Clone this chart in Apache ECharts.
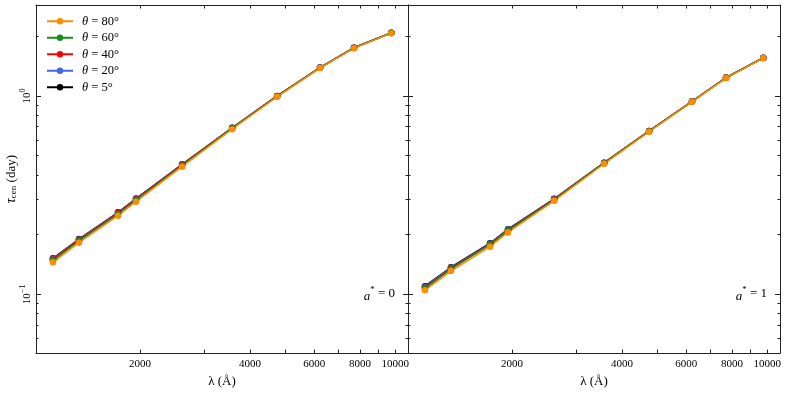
<!DOCTYPE html>
<html><head><meta charset="utf-8">
<script src="https://cdn.jsdelivr.net/npm/echarts@6/dist/echarts.min.js"></script>
<style>html,body{margin:0;padding:0;background:#fff}#c{width:789px;height:393px}</style>
</head><body><div id="c"></div>
<script>
// ---------- data ----------
const wavelengths = [1155, 1361, 1741, 1950, 2608, 3575, 4747, 6222, 7709, 9753];
const thetaNames = ['θ = 80°', 'θ = 60°', 'θ = 40°', 'θ = 20°', 'θ = 5°'];
const thetaColors = ['#ff8c00', '#1a8c1a', '#ff0000', '#4169e1', '#000000'];
// panel a* = 0
const a0_t80 = [0.145, 0.182, 0.249, 0.293, 0.440, 0.680, 0.990, 1.380, 1.740, 2.070];
const a0_t60 = [0.148, 0.186, 0.254, 0.298, 0.446, 0.686, 0.995, 1.385, 1.745, 2.075];
const a0_t40 = [0.150, 0.188, 0.257, 0.301, 0.449, 0.689, 0.997, 1.387, 1.747, 2.077];
const a0_t20 = [0.151, 0.189, 0.258, 0.303, 0.451, 0.690, 0.998, 1.388, 1.748, 2.078];
const a0_t5  = [0.152, 0.190, 0.259, 0.304, 0.452, 0.691, 0.999, 1.389, 1.749, 2.079];
// panel a* = 1
const a1_t80 = [0.105, 0.131, 0.174, 0.205, 0.296, 0.455, 0.660, 0.933, 1.230, 1.550];
const a1_t60 = [0.107, 0.134, 0.178, 0.209, 0.299, 0.458, 0.663, 0.936, 1.233, 1.553];
const a1_t40 = [0.108, 0.135, 0.179, 0.211, 0.301, 0.459, 0.664, 0.937, 1.234, 1.554];
const a1_t20 = [0.109, 0.136, 0.180, 0.212, 0.302, 0.460, 0.665, 0.938, 1.235, 1.555];
const a1_t5  = [0.110, 0.137, 0.181, 0.213, 0.303, 0.461, 0.666, 0.939, 1.236, 1.556];
const panelLabels = ['0', '1'];
// ticks
const xTickValues = [2000, 4000, 6000, 8000, 10000];
const xTickLabels = ['2000', '4000', '6000', '8000', '10000'];
const xMinorTicks = [2000, 3000, 4000, 5000, 6000, 7000, 8000, 9000, 10000];
const yMajorTicks = [0.1, 1];
const yTickExponents = ['−1', '0'];
const yMinorTicks = [0.05, 0.06, 0.07, 0.08, 0.09, 0.2, 0.3, 0.4, 0.5, 0.6, 0.7, 0.8, 0.9, 2];
const xRange = [1038, 10836];
const yRange = [0.0506, 2.87];

// ---------- build ----------
const L = Math.log10;
const FONT = "'Liberation Serif', 'DejaVu Serif', serif";
const panels = [
  [a0_t80, a0_t60, a0_t40, a0_t20, a0_t5],
  [a1_t80, a1_t60, a1_t40, a1_t20, a1_t5]
];
const grids = [
  {left: 36, top: 5, width: 372, height: 349},
  {left: 408, top: 5, width: 372, height: 349}
];
const xAxes = [], yAxes = [];
const lineStyle = {color: '#222', width: 1};
function fmtX(v) {
  for (let i = 0; i < xTickValues.length; i++) if (Math.abs(L(xTickValues[i]) - v) < 1e-6) return xTickLabels[i];
  return '';
}
function fmtY(v) {
  for (let i = 0; i < yMajorTicks.length; i++) if (Math.abs(L(yMajorTicks[i]) - v) < 1e-6) return '{b|10}{s|' + yTickExponents[i] + '}';
  return '';
}
grids.forEach((g, gi) => {
  const xb = {type: 'value', gridIndex: gi, min: L(xRange[0]), max: L(xRange[1]), splitLine: {show: false}};
  xAxes.push(Object.assign({}, xb, {
    position: 'bottom',
    axisLine: {show: true, onZero: false, lineStyle},
    axisTick: {show: true, inside: true, length: 3.5, lineStyle, customValues: xMinorTicks.map(L)},
    axisLabel: {show: true, customValues: xTickValues.map(L), formatter: fmtX, color: '#000', fontFamily: FONT, fontSize: 11, margin: 6},
    name: 'λ (Å)', nameLocation: 'middle', nameGap: 18,
    nameTextStyle: {color: '#000', fontFamily: FONT, fontSize: 13}
  }));
  xAxes.push(Object.assign({}, xb, {
    position: 'top',
    axisLine: {show: true, onZero: false, lineStyle},
    axisTick: {show: true, inside: true, length: 3.5, lineStyle, customValues: xMinorTicks.map(L)},
    axisLabel: {show: false}
  }));
  const yb = {type: 'value', gridIndex: gi, min: L(yRange[0]), max: L(yRange[1]), splitLine: {show: false}};
  yAxes.push(Object.assign({}, yb, {
    position: 'left',
    axisLine: {show: true, onZero: false, lineStyle},
    axisTick: {show: true, inside: true, length: 2.5, lineStyle, customValues: yMinorTicks.map(L)},
    axisLabel: gi === 0 ? {
      show: true, customValues: yMajorTicks.map(L), formatter: fmtY, rotate: 90, margin: 3, color: '#000',
      rich: {b: {fontFamily: FONT, fontSize: 11, verticalAlign: 'bottom', lineHeight: 14},
             s: {fontFamily: FONT, fontSize: 8, verticalAlign: 'top', lineHeight: 14}}
    } : {show: false},
    name: gi === 0 ? '{t|τ}{sub|cen} (day)' : '', nameLocation: 'middle', nameGap: 15,
    nameTextStyle: {color: '#000', fontFamily: FONT, fontSize: 13,
      rich: {t: {fontFamily: FONT, fontSize: 14, fontStyle: 'italic'},
             sub: {fontFamily: FONT, fontSize: 9, verticalAlign: 'bottom', padding: [4, 0, 0, 0]}}}
  }));
  yAxes.push(Object.assign({}, yb, {
    position: 'left',
    axisLine: {show: false, onZero: false},
    axisTick: {show: true, inside: true, length: 5, lineStyle, customValues: yMajorTicks.map(L)},
    axisLabel: {show: false}
  }));
  yAxes.push(Object.assign({}, yb, {
    position: 'right',
    axisLine: {show: true, onZero: false, lineStyle},
    axisTick: {show: true, inside: true, length: 2.5, lineStyle, customValues: yMinorTicks.map(L)},
    axisLabel: {show: false}
  }));
  yAxes.push(Object.assign({}, yb, {
    position: 'right',
    axisLine: {show: false, onZero: false},
    axisTick: {show: true, inside: true, length: 5, lineStyle, customValues: yMajorTicks.map(L)},
    axisLabel: {show: false}
  }));
});

const series = [];
panels.forEach((sets, gi) => {
  for (let k = sets.length - 1; k >= 0; k--) {
    series.push({
      type: 'line', name: thetaNames[k], xAxisIndex: gi * 2, yAxisIndex: gi * 4,
      data: wavelengths.map((w, i) => [L(w), L(sets[k][i])]),
      symbol: 'circle', symbolSize: 6.5, showSymbol: true,
      lineStyle: {color: thetaColors[k], width: 1.5},
      itemStyle: {color: thetaColors[k]},
      emphasis: {disabled: true}, animation: false
    });
  }
});

const graphic = grids.map((g, gi) => ({
  type: 'text', right: 789 - (g.left + g.width - 13), top: 285,
  style: {
    text: '{i|a}{s|*} = ' + panelLabels[gi], fill: '#000',
    font: '13px ' + FONT,
    rich: {i: {fontStyle: 'italic', fontFamily: FONT, fontSize: 13, lineHeight: 18, verticalAlign: 'bottom'},
           s: {fontFamily: FONT, fontSize: 9, lineHeight: 18, verticalAlign: 'top'}}
  }
}));

const chart = echarts.init(document.getElementById('c'), null, {renderer: 'canvas'});
chart.setOption({
  animation: false,
  backgroundColor: '#fff',
  grid: grids,
  xAxis: xAxes,
  yAxis: yAxes,
  series,
  legend: {
    data: thetaNames, orient: 'vertical', left: 46, top: 13, padding: 0,
    itemWidth: 26, itemHeight: 8, itemGap: 0,
    formatter: n => '{i|θ}' + n.slice(1),
    textStyle: {color: '#000', fontFamily: FONT, fontSize: 12.5, lineHeight: 16.5, padding: [0, 0, 0, 4],
      rich: {i: {fontStyle: 'italic', fontFamily: FONT, fontSize: 12.5, lineHeight: 16.5}}},
    selectedMode: false
  },
  graphic
});
</script></body></html>
